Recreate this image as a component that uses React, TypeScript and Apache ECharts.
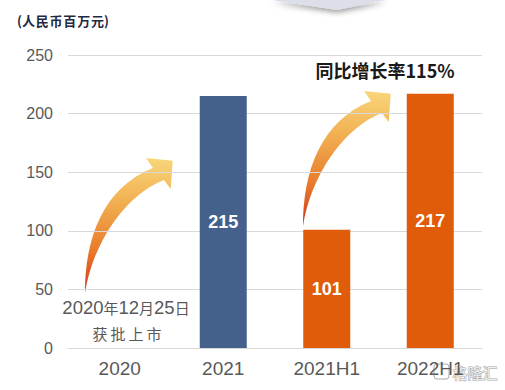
import React, { useEffect, useRef } from "react";
import * as echarts from "echarts";

const categories = ["2020", "2021", "2021H1", "2022H1"];
const values: (number | null)[] = [null, 215, 101, 217];
const barColors = ["#44618B", "#44618B", "#E05B0A", "#E05B0A"];
const yTicks = { min: 0, max: 250, interval: 50 };
const unitText = "(人\u200a民\u200a币\u200a百\u200a万\u200a元)";
const growthText = "同比增长率115%";
const launchDate = ["2020", "年", "12", "月", "25", "日"];
const launchText = "获\u2009批\u2009上\u2009市";

const ARROW_D =
  "M0,0 C0,-55 18,-105 68,-125 L61,-135 L87.7,-132.3 L85.7,-104 L79,-113 C40,-98 8,-50 0,0 Z";

let registered = false;
function ensureShape() {
  if (registered) return;
  echarts.graphic.registerShape("curvedArrow", echarts.graphic.extendPath(ARROW_D, {}) as any);
  registered = true;
}

function arrowGradient() {
  return new echarts.graphic.LinearGradient(0, 1, 0, 0, [
    { offset: 0, color: "#CF3A1D" },
    { offset: 0.3, color: "#E8782A" },
    { offset: 0.7, color: "#F2B355" },
    { offset: 1, color: "#F8D679" },
  ]);
}

export default function App() {
  const ref = useRef<HTMLDivElement>(null);
  useEffect(() => {
    if (!ref.current) return;
    ensureShape();
    const chart = echarts.init(ref.current, null, { renderer: "svg" });
    const cjk = "'Noto Sans CJK SC', 'Liberation Sans', sans-serif";
    const sans = "'Liberation Sans', Arial, sans-serif";
    chart.setOption({
      animation: false,
      grid: { left: 68, right: 23, top: 55, bottom: 42 },
      xAxis: {
        type: "category",
        data: categories,
        axisLine: { show: true, lineStyle: { color: "#D9D9D9", width: 1 } },
        axisTick: { show: false },
        axisLabel: { color: "#595959", fontSize: 19, fontFamily: sans, margin: 11 },
      },
      yAxis: {
        type: "value",
        min: yTicks.min,
        max: yTicks.max,
        interval: yTicks.interval,
        axisLine: { show: false },
        axisTick: { show: false },
        splitLine: { lineStyle: { color: "#D9D9D9", width: 1 } },
        axisLabel: { color: "#595959", fontSize: 16, fontFamily: sans, margin: 15 },
      },
      series: [
        {
          type: "bar",
          barWidth: 47,
          data: values.map((v, i) => ({ value: v, itemStyle: { color: barColors[i] } })),
          label: {
            show: true,
            position: "inside",
            color: "#FFFFFF",
            fontSize: 18,
            fontWeight: "bold",
            fontFamily: sans,
          },
        },
      ],
      graphic: [
        {
          type: "polygon",
          shape: { points: [[272, 0], [337, 10], [386, 0]] },
          style: { fill: "#DCDFEA", shadowBlur: 6, shadowColor: "rgba(0,0,0,0.45)", shadowOffsetY: 2 },
        },
        {
          type: "text",
          left: 17,
          top: 14,
          style: { text: unitText, fontSize: 13, fontWeight: "bold", fill: "#1F2A44", fontFamily: cjk },
        },
        {
          type: "text",
          x: 385,
          y: 70,
          style: {
            text: growthText,
            fontSize: 18,
            fontWeight: "bold",
            fill: "#1A1A1A",
            fontFamily: cjk,
            align: "center",
            verticalAlign: "middle",
          },
        },
        {
          type: "curvedArrow",
          x: 85,
          y: 293,
          style: { fill: arrowGradient() },
        },
        {
          type: "curvedArrow",
          x: 303,
          y: 226,
          style: { fill: arrowGradient() },
        },
        {
          type: "text",
          x: 126,
          y: 307,
          style: {
            text: launchDate.map((s, i) => `{${i % 2 === 0 ? "d" : "c"}|${s}}`).join(""),
            align: "center",
            verticalAlign: "middle",
            rich: {
              d: { fontSize: 18.5, fill: "#595959", fontFamily: sans },
              c: { fontSize: 15, fill: "#595959", fontFamily: cjk },
            },
          },
        },
        {
          type: "text",
          x: 127,
          y: 333,
          style: {
            text: launchText,
            fontSize: 15,
            fill: "#595959",
            fontFamily: cjk,
            align: "center",
            verticalAlign: "middle",
          },
        },
        {
          type: "rect",
          shape: { x: 434, y: 364, width: 15, height: 15, r: 3 },
          style: { fill: "rgba(255,255,255,0.6)", stroke: "rgba(150,150,150,0.8)", lineWidth: 1 },
        },
        {
          type: "text",
          x: 475,
          y: 372,
          style: {
            text: "格隆汇",
            fontSize: 15,
            fill: "rgba(255,255,255,0.85)",
            stroke: "rgba(140,140,140,0.8)",
            lineWidth: 1,
            fontFamily: cjk,
            align: "center",
            verticalAlign: "middle",
          },
        },
      ],
    });
    return () => chart.dispose();
  }, []);
  return (
    <div
      ref={ref}
      style={{ position: "fixed", left: 0, top: 0, width: 505, height: 390, background: "#FFFFFF" }}
    />
  );
}
